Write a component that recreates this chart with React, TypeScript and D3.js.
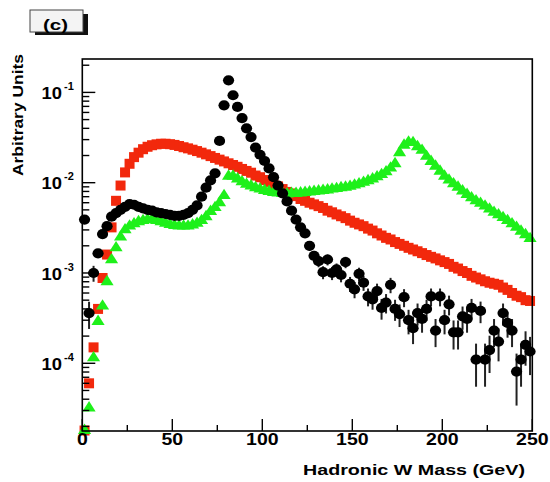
import React from "react";
import * as d3 from "d3";

// Histogram binning: 100 bins of 2.5 GeV from 0 to 250 GeV
const binWidth = 2.5;

// Red squares
const red = [
  1.8e-5, 6e-5, 1.5e-4, 4e-4, 8.8e-4, 1.6e-3, 3.2e-3, 6.3e-3, 9.3e-3, 1.3e-2,
  1.62e-2, 1.92e-2, 2.15e-2, 2.35e-2, 2.5e-2, 2.6e-2, 2.66e-2, 2.7e-2, 2.7e-2, 2.67e-2,
  2.62e-2, 2.55e-2, 2.47e-2, 2.4e-2, 2.32e-2, 2.24e-2, 2.15e-2, 2.06e-2, 1.97e-2, 1.88e-2,
  1.8e-2, 1.72e-2, 1.64e-2, 1.57e-2, 1.5e-2, 1.42e-2, 1.35e-2, 1.29e-2, 1.2e-2, 1.15e-2,
  1.07e-2, 1.02e-2, 9.5e-3, 9.1e-3, 8.5e-3, 7.9e-3, 7.6e-3, 7.1e-3, 6.6e-3, 6.3e-3,
  6.0e-3, 5.75e-3, 5.5e-3, 5.25e-3, 4.9e-3, 4.7e-3, 4.45e-3, 4.25e-3, 4.05e-3, 3.8e-3,
  3.6e-3, 3.45e-3, 3.3e-3, 3.1e-3, 2.95e-3, 2.75e-3, 2.6e-3, 2.45e-3, 2.35e-3, 2.2e-3,
  2.1e-3, 2.0e-3, 1.9e-3, 1.82e-3, 1.74e-3, 1.66e-3, 1.58e-3, 1.51e-3, 1.45e-3, 1.38e-3,
  1.32e-3, 1.26e-3, 1.17e-3, 1.12e-3, 1.05e-3, 1.0e-3, 9.3e-4, 8.9e-4, 8.5e-4, 8.1e-4,
  7.8e-4, 7.6e-4, 7.4e-4, 6.9e-4, 6.5e-4, 6.0e-4, 5.6e-4, 5.4e-4, 5.0e-4, 4.9e-4,
];

// Green triangles
const green = [
  1.8e-5, 3.2e-5, 1.15e-4, 2.9e-4, 4.3e-4, 8.0e-4, 1.4e-3, 1.9e-3, 2.5e-3, 3.0e-3,
  3.3e-3, 3.5e-3, 3.7e-3, 3.8e-3, 3.9e-3, 3.9e-3, 3.8e-3, 3.7e-3, 3.55e-3, 3.45e-3,
  3.35e-3, 3.3e-3, 3.3e-3, 3.3e-3, 3.4e-3, 3.55e-3, 3.8e-3, 4.2e-3, 4.8e-3, 5.3e-3,
  6.0e-3, 7.2e-3, 1.18e-2, 1.18e-2, 1.1e-2, 1.02e-2, 9.6e-3, 9.2e-3, 8.8e-3, 8.5e-3,
  8.2e-3, 8.0e-3, 7.8e-3, 7.7e-3, 7.6e-3, 7.5e-3, 7.6e-3, 7.6e-3, 7.7e-3, 7.8e-3,
  7.9e-3, 8.0e-3, 8.1e-3, 8.2e-3, 8.3e-3, 8.5e-3, 8.6e-3, 8.8e-3, 8.9e-3, 9.1e-3,
  9.4e-3, 9.7e-3, 1.01e-2, 1.05e-2, 1.1e-2, 1.16e-2, 1.23e-2, 1.32e-2, 1.45e-2, 1.62e-2,
  2.15e-2, 2.6e-2, 2.82e-2, 2.78e-2, 2.5e-2, 2.28e-2, 1.96e-2, 1.72e-2, 1.52e-2, 1.34e-2,
  1.18e-2, 1.07e-2, 9.7e-3, 8.9e-3, 8.1e-3, 7.4e-3, 6.8e-3, 6.3e-3, 5.9e-3, 5.5e-3,
  5.1e-3, 4.7e-3, 4.4e-3, 4.1e-3, 3.8e-3, 3.5e-3, 3.2e-3, 2.9e-3, 2.65e-3, 2.4e-3,
];

// Black circles
const black = [
  3.9e-3, 3.6e-4, 1.0e-3, 1.65e-3, 2.7e-3, 3.3e-3, 4.2e-3, 4.6e-3, 5.0e-3, 5.4e-3,
  5.8e-3, 5.7e-3, 5.4e-3, 5.2e-3, 5.0e-3, 4.9e-3, 4.7e-3, 4.6e-3, 4.5e-3, 4.4e-3,
  4.3e-3, 4.3e-3, 4.4e-3, 4.6e-3, 5.0e-3, 5.6e-3, 7.0e-3, 8.8e-3, 1.06e-2, 1.27e-2,
  2.9e-2, 7.2e-2, 1.36e-1, 9.3e-2, 6.9e-2, 5.2e-2, 4.0e-2, 3.2e-2, 2.45e-2, 2.04e-2,
  1.74e-2, 1.44e-2, 1.15e-2, 9.3e-3, 7.6e-3, 6.2e-3, 4.9e-3, 3.9e-3, 3.2e-3, 2.75e-3,
  2.0e-3, 1.55e-3, 1.35e-3, 1.02e-3, 1.41e-3, 1.0e-3, 1.1e-3, 9.5e-4, 1.32e-3, 7.6e-4,
  6.6e-4, 9.8e-4, 7.8e-4, 5.5e-4, 5.1e-4, 6.3e-4, 4.1e-4, 4.7e-4, 7.4e-4, 4.0e-4,
  3.5e-4, 5.4e-4, 3.0e-4, 2.45e-4, 3.6e-4, 3.1e-4, 4.0e-4, 5.5e-4, 2.3e-4, 5.5e-4,
  3.0e-4, 4.5e-4, 2.2e-4, 2.2e-4, 3.3e-4, 3.1e-4, 4.1e-4, 1.1e-4, 3.8e-4, 1.1e-4,
  1.4e-4, 2.3e-4, 1.74e-4, 3.6e-4, 2.8e-4, 2.3e-4, 8.1e-5, 1.1e-4, 1.6e-4, 1.35e-4,
];

// Black error bars (absolute)
const blackErr = [
  0, 1.2e-4, 2.0e-4, 0, 0, 0, 0, 0, 0, 0,
  0, 0, 0, 0, 0, 0, 0, 0, 0, 0,
  0, 0, 0, 0, 0, 0, 0, 0, 0, 0,
  0, 0, 0, 0, 0, 0, 0, 0, 0, 0,
  0, 0, 0, 0, 0, 0, 0, 3.3e-4, 3.0e-4, 2.75e-4,
  2.35e-4, 2.06e-4, 1.93e-4, 1.67e-4, 1.97e-4, 1.66e-4, 1.74e-4, 1.62e-4, 1.9e-4, 1.44e-4,
  1.35e-4, 1.64e-4, 1.46e-4, 1.23e-4, 1.18e-4, 1.32e-4, 1.06e-4, 1.14e-4, 1.43e-4, 1.05e-4,
  9.8e-5, 1.22e-4, 9.1e-5, 8.2e-5, 9.9e-5, 9.2e-5, 1.05e-4, 1.23e-4, 7.9e-5, 1.23e-4,
  9.1e-5, 1.11e-4, 7.8e-5, 7.8e-5, 9.5e-5, 9.2e-5, 1.06e-4, 5.5e-5, 1.02e-4, 5.5e-5,
  6.2e-5, 7.9e-5, 6.9e-5, 9.9e-5, 8.8e-5, 7.9e-5, 4.7e-5, 5.5e-5, 6.6e-5, 6.1e-5,
];

const xTicks = [0, 50, 100, 150, 200, 250];
const xMinorTicks = [25, 75, 125, 175, 225];
const yDecades = [1e-1, 1e-2, 1e-3, 1e-4];
const yExponents = ["-1", "-2", "-3", "-4"];
const xTitle = "Hadronic W Mass (GeV)";
const yTitle = "Arbitrary Units";
const panelLabel = "(c)";

const FONT = "'Liberation Sans', Arial, Helvetica, sans-serif";
const RED = "#f2280c";
const GREEN = "#1ef01a";

export default function App() {
  const W = 550;
  const H = 482;
  const left = 82.3;
  const right = 532.3;
  const top = 59;
  const bottom = 431;
  const yMin = 1.778e-5;
  const yMax = 0.2344;

  const x = d3.scaleLinear().domain([0, 250]).range([left, right]);
  const y = d3.scaleLog().domain([yMin, yMax]).range([bottom, top]);
  const cy = (v: number) => y(Math.max(v, yMin));
  const centers = red.map((_, i) => (i + 0.5) * binWidth);

  const yMinor: number[] = [];
  [1e-5, 1e-4, 1e-3, 1e-2, 1e-1].forEach((d) => {
    for (let m = 2; m <= 9; m++) {
      const v = m * d;
      if (v > yMin && v < yMax) yMinor.push(v);
    }
  });

  const tri = d3.symbol().type(d3.symbolTriangle).size(62)();

  return (
    <svg
      width={W}
      height={H}
      style={{ position: "absolute", left: 0, top: 0, background: "#fff" }}
      fontFamily={FONT}
    >
      <rect x={0} y={0} width={W} height={H} fill="#fff" />

      {/* panel label */}
      <rect x={35} y={14} width={53} height={21} fill="#111" />
      <rect x={30} y={10} width={53} height={22} fill="#f4f4f4" stroke="#444" strokeWidth={1} />
      <text x={43} y={30} fontSize={15} fontWeight="bold" textLength={25} lengthAdjust="spacingAndGlyphs">
        {panelLabel}
      </text>

      {/* data: red */}
      <g>
        {red.map((v, i) => (
          <rect key={"r" + i} x={x(centers[i]) - 5} y={cy(v) - 5} width={10} height={10} fill={RED} />
        ))}
      </g>
      {/* data: green */}
      <g>
        {green.map((v, i) => (
          <path key={"g" + i} d={tri as string} transform={`translate(${x(centers[i])},${cy(v)}) scale(1.1,1)`} fill={GREEN} />
        ))}
      </g>
      {/* data: black with error bars */}
      <g>
        {black.map((v, i) => {
          const e = blackErr[i];
          if (!e) return null;
          return (
            <line
              key={"be" + i}
              x1={x(centers[i])}
              x2={x(centers[i])}
              y1={cy(v - e)}
              y2={cy(v + e)}
              stroke="#222"
              strokeWidth={2}
            />
          );
        })}
        {black.map((v, i) => (
          <ellipse key={"b" + i} cx={x(centers[i])} cy={cy(v)} rx={5.6} ry={5.1} fill="#000" />
        ))}
      </g>

      {/* frame */}
      <rect x={left} y={top} width={right - left} height={bottom - top} fill="none" stroke="#000" strokeWidth={1.6} />

      {/* x ticks */}
      {xTicks.map((t) => (
        <line key={"xt" + t} x1={x(t)} x2={x(t)} y1={bottom} y2={bottom - 12} stroke="#000" strokeWidth={1.4} />
      ))}
      {xMinorTicks.map((t) => (
        <line key={"xm" + t} x1={x(t)} x2={x(t)} y1={bottom} y2={bottom - 6} stroke="#000" strokeWidth={1.4} />
      ))}
      {xTicks.map((t) => (
        <text
          key={"xl" + t}
          transform={`translate(${x(t)},445) scale(1.22,1)`}
          textAnchor="middle"
          fontSize={16}
          fontWeight="bold"
        >
          {t}
        </text>
      ))}

      {/* y ticks */}
      {yDecades.map((d) => (
        <line key={"yt" + d} x1={left} x2={left + 13} y1={y(d)} y2={y(d)} stroke="#000" strokeWidth={1.4} />
      ))}
      {yMinor.map((d, i) => (
        <line key={"ym" + i} x1={left} x2={left + 7} y1={y(d)} y2={y(d)} stroke="#000" strokeWidth={1.4} />
      ))}
      {yDecades.map((d, i) => (
        <g key={"yl" + d}>
          <text
            transform={`translate(62,${y(d) + 6.8}) scale(1.15,1)`}
            textAnchor="end"
            fontSize={16}
            fontWeight="bold"
          >
            10
          </text>
          <text x={64} y={y(d) - 2.2} fontSize={11} fontWeight="bold">
            {yExponents[i]}
          </text>
        </g>
      ))}

      {/* axis titles */}
      <text x={303} y={475} fontSize={15} fontWeight="bold" textLength={222} lengthAdjust="spacingAndGlyphs">
        {xTitle}
      </text>
      <text
        transform="translate(23,176) rotate(-90)"
        fontSize={15}
        fontWeight="bold"
        textLength={122}
        lengthAdjust="spacingAndGlyphs"
      >
        {yTitle}
      </text>
    </svg>
  );
}
